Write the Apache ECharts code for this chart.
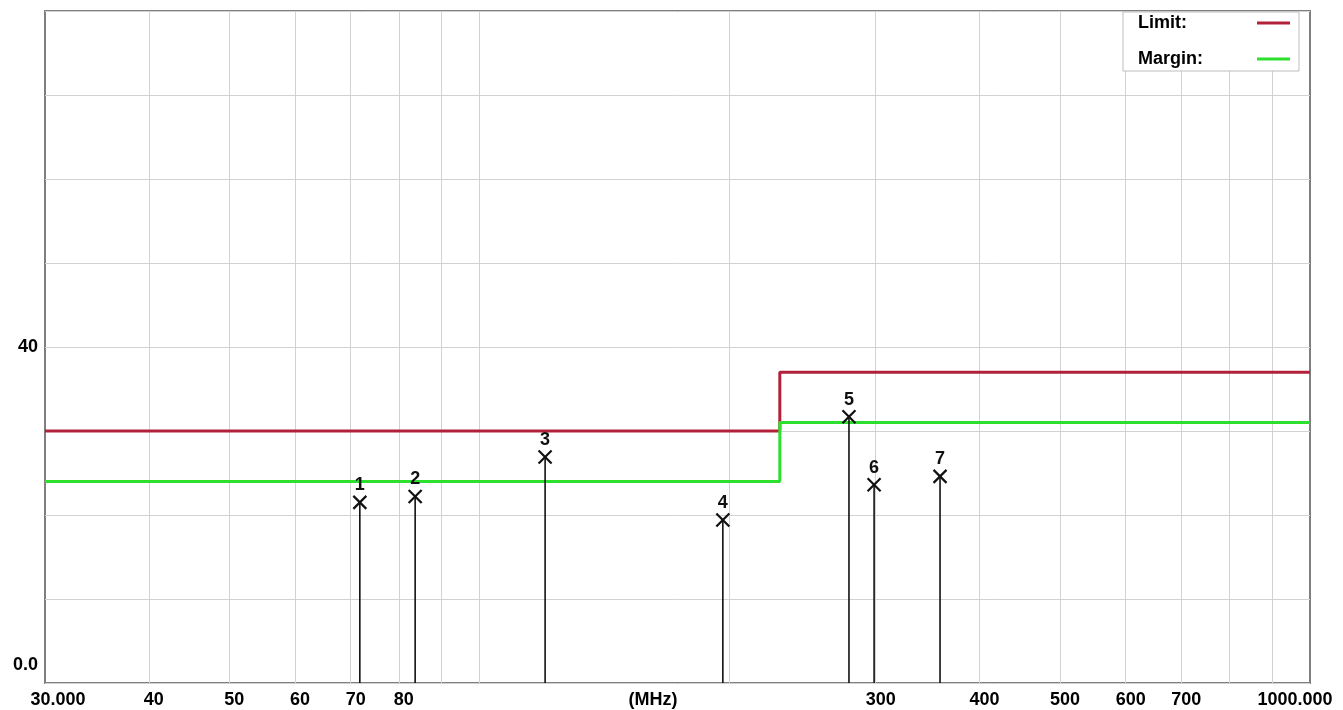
<!DOCTYPE html>
<html>
<head>
<meta charset="utf-8">
<script src="https://cdn.jsdelivr.net/npm/echarts@6/dist/echarts.min.js"></script>
<style>
html,body{margin:0;padding:0;background:#fff;}
#chart{width:1343px;height:710px;}
</style>
</head>
<body>
<div id="chart"></div>
<script>
// ---- data ----
const markerIds = ['1', '2', '3', '4', '5', '6', '7'];
const markerFreqs = [71.8, 83.7, 120.0, 196.4, 278.6, 298.7, 358.6];   // MHz
const markerLevels = [21.5, 22.2, 26.9, 19.4, 31.7, 23.6, 24.6];
const limitFreqs = [30, 230, 230, 1000];
const limitLevels = [30, 30, 37, 37];
const marginFreqs = [30, 230, 230, 1000];
const marginLevels = [24, 24, 31, 31];
const xGridValues = [40, 50, 60, 70, 80, 90, 100, 200, 300, 400, 500, 600, 700, 800, 900];
const xTickLabels = [30, 40, 50, 60, 70, 80, 300, 400, 500, 600, 700, 1000];
const yTickLabels = [0, 40];
const xUnit = '(MHz)';

const FONT = 'Liberation Sans';
const chart = echarts.init(document.getElementById('chart'));

const option = {
  animation: false,
  backgroundColor: '#fff',
  grid: {
    left: 45, right: 33, top: 11, bottom: 27,
    containLabel: false, outerBoundsMode: 'none',
    show: true, borderColor: '#7f7f7f', borderWidth: 2, backgroundColor: '#fff'
  },
  legend: {
    data: ['Limit', 'Margin'],
    orient: 'vertical',
    right: 44, top: 12,
    align: 'right',
    icon: 'rect',
    itemWidth: 33, itemHeight: 3,
    itemGap: 18,
    padding: [2, 9, 3, 15],
    backgroundColor: '#fff',
    borderColor: '#bdbdbd', borderWidth: 1,
    selectedMode: false,
    formatter: n => '{t|' + n + ':}',
    textStyle: {
      rich: { t: { width: 114, align: 'left', fontWeight: 'bold', fontSize: 18, fontFamily: FONT, color: '#000', lineHeight: 20 } }
    }
  },
  xAxis: {
    type: 'log', logBase: 10, min: 30, max: 1000,
    name: xUnit, nameLocation: 'middle', nameGap: 8, nameMoveOverlap: false,
    nameTextStyle: { fontWeight: 'bold', fontSize: 18, fontFamily: FONT, color: '#000', padding: [0, 49, 0, 0] },
    axisLine: { show: false },
    axisTick: { show: false, customValues: xGridValues },
    splitLine: { show: true, lineStyle: { color: '#d2d2d2', width: 1 } },
    axisLabel: {
      customValues: xTickLabels,
      margin: 8,
      formatter: v => {
        if (v === 30) return '{a|30.000}';
        if (v === 1000) return '{b|1000.000}';
        return '{c|' + v + '}';
      },
      rich: {
        a: { fontWeight: 'bold', fontSize: 18, fontFamily: FONT, color: '#000', padding: [0, 0, 0, 26] },
        b: { fontWeight: 'bold', fontSize: 18, fontFamily: FONT, color: '#000', padding: [0, 30, 0, 0] },
        c: { fontWeight: 'bold', fontSize: 18, fontFamily: FONT, color: '#000', padding: [0, 0, 0, 10] }
      }
    }
  },
  yAxis: {
    type: 'value', min: 0, max: 80, interval: 10,
    axisLine: { show: false },
    axisTick: { show: false },
    splitLine: { show: true, lineStyle: { color: '#d2d2d2', width: 1 } },
    axisLabel: {
      customValues: yTickLabels,
      margin: 7,
      formatter: v => v === 0 ? '{z|0.0}' : '{n|' + v + '}',
      rich: {
        z: { fontWeight: 'bold', fontSize: 18, fontFamily: FONT, color: '#000', padding: [0, 0, 36, 0] },
        n: { fontWeight: 'bold', fontSize: 18, fontFamily: FONT, color: '#000' }
      }
    }
  },
  series: [
    {
      name: 'Limit', type: 'line', showSymbol: false, symbol: 'none',
      lineStyle: { color: '#b3203a', width: 3 }, itemStyle: { color: '#b3203a' },
      data: limitFreqs.map((f, i) => [f, limitLevels[i]]), z: 3
    },
    {
      name: 'Margin', type: 'line', showSymbol: false, symbol: 'none',
      lineStyle: { color: '#2ee02e', width: 3 }, itemStyle: { color: '#2ee02e' },
      data: marginFreqs.map((f, i) => [f, marginLevels[i]]), z: 3
    },
    {
      name: 'Markers', type: 'custom', z: 5,
      encode: { x: 0, y: 1 },
      data: markerFreqs.map((f, i) => [f, markerLevels[i], i]),
      renderItem: (params, api) => {
        const f = api.value(0), v = api.value(1), idx = api.value(2);
        const p = api.coord([f, v]);
        const b = api.coord([f, 0]);
        const s = 6.5;
        return {
          type: 'group',
          children: [
            { type: 'line', shape: { x1: p[0], y1: p[1], x2: b[0], y2: b[1] }, style: { stroke: '#111', lineWidth: 1.6 } },
            { type: 'line', shape: { x1: p[0] - s, y1: p[1] - s, x2: p[0] + s, y2: p[1] + s }, style: { stroke: '#111', lineWidth: 2.2 } },
            { type: 'line', shape: { x1: p[0] - s, y1: p[1] + s, x2: p[0] + s, y2: p[1] - s }, style: { stroke: '#111', lineWidth: 2.2 } },
            { type: 'text', x: p[0], y: p[1] - 17,
              style: { text: markerIds[idx], align: 'center', verticalAlign: 'middle', font: 'bold 18px ' + FONT, fill: '#111' } }
          ]
        };
      }
    }
  ]
};
chart.setOption(option);
</script>
</body>
</html>
